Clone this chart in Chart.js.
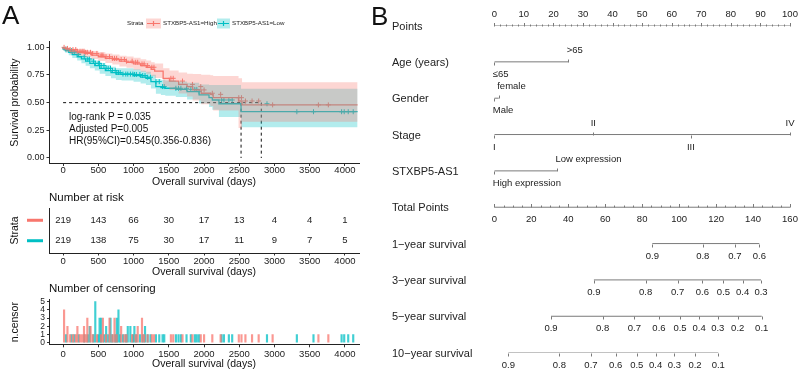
<!DOCTYPE html>
<html>
<head>
<meta charset="utf-8">
<script src="https://cdn.jsdelivr.net/npm/chart.js@4.4.1/dist/chart.umd.min.js"></script>
<style>
  body { margin: 0; background: #fff; }
  #wrap { position: relative; width: 800px; height: 376px; overflow: hidden; font-family: 'Liberation Sans', Arial, sans-serif; color: #111; }
  #wrap canvas { position: absolute; }
  .txt { position: absolute; white-space: nowrap; line-height: 1; transform: translateY(-50%); }
</style>
</head>
<body>
<div id="wrap">
  <canvas id="km" width="370" height="190" style="left:0;top:0"></canvas>
  <canvas id="risk" width="370" height="93" style="left:0;top:185px"></canvas>
  <canvas id="censor" width="370" height="98" style="left:0;top:278px"></canvas>
  <canvas id="nomo" width="420" height="376" style="left:380px;top:0"></canvas>
  <div class="txt" style="left:2px;top:15px;font-size:26px">A</div>
  <div class="txt" style="left:371px;top:16px;font-size:26px">B</div>
  <div class="txt" style="left:69px;top:117px;font-size:10px">log-rank P = 0.035</div>
  <div class="txt" style="left:69px;top:129px;font-size:10px">Adjusted P=0.005</div>
  <div class="txt" style="left:69px;top:141px;font-size:10px">HR(95%CI)=0.545(0.356-0.836)</div>
  <div class="txt" style="left:49px;top:198px;font-size:11.5px">Number at risk</div>
  <div class="txt" style="left:49px;top:289px;font-size:11.5px">Number of censoring</div>
</div>
<script>
// 생존 곡선
const highTimes = [0, 40, 100, 200, 300, 400, 500, 600, 700, 800, 900, 1000, 1100, 1180, 1250, 1300, 1420, 1510, 1640, 1760, 1840, 1960, 2090, 2130, 2490, 2540, 2813, 4180];
const highSurv  = [1, 0.99, 0.98, 0.965, 0.955, 0.945, 0.93, 0.915, 0.90, 0.89, 0.875, 0.865, 0.85, 0.835, 0.82, 0.80, 0.785, 0.72, 0.695, 0.665, 0.645, 0.615, 0.585, 0.575, 0.545, 0.515, 0.48, 0.48];
const highUpper = [1, 1, 0.998, 0.99, 0.984, 0.977, 0.966, 0.955, 0.944, 0.936, 0.925, 0.917, 0.905, 0.893, 0.882, 0.866, 0.853, 0.81, 0.79, 0.772, 0.762, 0.758, 0.752, 0.748, 0.74, 0.72, 0.684, 0.684];
const highLower = [1, 0.972, 0.958, 0.94, 0.926, 0.913, 0.894, 0.876, 0.858, 0.845, 0.827, 0.815, 0.797, 0.78, 0.762, 0.74, 0.722, 0.645, 0.615, 0.582, 0.555, 0.52, 0.485, 0.47, 0.43, 0.27, 0.328, 0.328];

const lowTimes = [0, 30, 80, 130, 200, 260, 320, 380, 450, 520, 600, 680, 750, 830, 1000, 1100, 1176, 1247, 1317, 1388, 1450, 1600, 1760, 1930, 2071, 2118, 2212, 2526, 3036, 4180];
const lowSurv  = [1, 0.985, 0.97, 0.955, 0.935, 0.915, 0.895, 0.875, 0.855, 0.835, 0.81, 0.79, 0.772, 0.758, 0.755, 0.745, 0.73, 0.72, 0.69, 0.645, 0.635, 0.63, 0.62, 0.60, 0.57, 0.545, 0.524, 0.49, 0.418, 0.418];
const lowUpper = [1, 0.998, 0.99, 0.982, 0.966, 0.95, 0.933, 0.916, 0.898, 0.88, 0.858, 0.84, 0.824, 0.812, 0.81, 0.802, 0.789, 0.78, 0.752, 0.714, 0.706, 0.70, 0.692, 0.68, 0.665, 0.66, 0.66, 0.66, 0.625, 0.625];
const lowLower = [1, 0.97, 0.95, 0.928, 0.904, 0.88, 0.857, 0.834, 0.812, 0.79, 0.762, 0.74, 0.72, 0.704, 0.70, 0.688, 0.672, 0.66, 0.628, 0.58, 0.57, 0.562, 0.55, 0.528, 0.493, 0.46, 0.435, 0.37, 0.277, 0.277];

const medianTimes = [2526, 2813];

// 축 눈금
const dayTicks = [0, 500, 1000, 1500, 2000, 2500, 3000, 3500, 4000];
const survTicks = [0, 0.25, 0.5, 0.75, 1];
const censorTicks = [0, 1, 2, 3, 4, 5];

// 중도절단 시점과 개수
const censorHighTimes  = [14, 62, 100, 140, 180, 203, 240, 270, 297, 320, 344, 390, 420, 480, 540, 565, 610, 659, 700, 730, 760, 824, 870, 900, 980, 1030, 1059, 1120, 1150, 1200, 1260, 1290, 1530, 1563, 1695, 1836, 1954, 2001, 2118, 2236, 2494, 2532, 2588, 2682, 2776, 2974, 3624, 3765];
const censorHighCounts = [4, 2, 1, 1, 1, 2, 1, 1, 2, 1, 3, 2, 1, 1, 1, 3, 1, 3, 1, 3, 1, 2, 1, 1, 1, 1, 2, 3, 1, 1, 1, 1, 1, 1, 1, 1, 1, 1, 1, 1, 1, 1, 1, 1, 1, 1, 1, 1];
const censorLowTimes  = [40, 120, 160, 220, 300, 350, 377, 430, 457, 500, 518, 541, 580, 611, 640, 673, 700, 740, 762, 786, 810, 850, 890, 918, 955, 990, 1012, 1040, 1090, 1130, 1163, 1200, 1240, 1318, 1365, 1412, 1436, 1601, 1638, 1672, 1752, 1813, 1870, 1898, 1930, 2250, 2283, 2353, 2400, 2894, 3318, 3554, 3953, 3990, 4047, 4118];
const censorLowCounts = [1, 1, 1, 1, 1, 1, 2, 1, 5, 1, 3, 3, 1, 2, 1, 3, 1, 1, 3, 4, 1, 1, 1, 2, 2, 1, 2, 1, 1, 1, 2, 1, 1, 1, 1, 1, 1, 1, 1, 1, 1, 1, 1, 1, 1, 1, 1, 1, 1, 1, 1, 1, 1, 1, 1, 1];

// 위험집단 수
const riskTimes = [0, 500, 1000, 1500, 2000, 2500, 3000, 3500, 4000];
const riskHigh = [219, 143, 66, 30, 17, 13, 4, 4, 1];
const riskLow  = [219, 138, 75, 30, 17, 11, 9, 7, 5];

// 노모그램
const rowLabels = ['Points', 'Age (years)', 'Gender', 'Stage', 'STXBP5-AS1', 'Total Points',
  '1\u2212year survival', '3\u2212year survival', '5\u2212year survival', '10\u2212year survival'];
const pointTicks = [0, 10, 20, 30, 40, 50, 60, 70, 80, 90, 100];
const totalTicks = [0, 20, 40, 60, 80, 100, 120, 140, 160];
const ageLevels = ['\u226465', '>65'];
const agePoints = [0, 25];
const genderLevels = ['Male', 'female'];
const genderPoints = [0, 1.5];
const stageLevels = ['I', 'II', 'III', 'IV'];
const stagePoints = [0, 33.5, 66.5, 100];
const exprLevels = ['High expression', 'Low expression'];
const exprPoints = [0, 21.2];
const surv1Probs = ['0.9', '0.8', '0.7', '0.6'];
const surv1Total = [85.5, 112.8, 130.2, 143.4];
const surv3Probs = ['0.9', '0.8', '0.7', '0.6', '0.5', '0.4', '0.3'];
const surv3Total = [53.9, 81.9, 99.2, 112.6, 124.0, 134.4, 144.3];
const surv5Probs = ['0.9', '0.8', '0.7', '0.6', '0.5', '0.4', '0.3', '0.2', '0.1'];
const surv5Total = [30.7, 58.6, 75.8, 89.1, 100.5, 110.8, 120.9, 131.7, 144.7];
const surv10Probs = ['0.9', '0.8', '0.7', '0.6', '0.5', '0.4', '0.3', '0.2', '0.1'];
const surv10Total = [7.6, 35.2, 52.3, 65.7, 77.1, 87.3, 97.4, 108.6, 121.2];

const RED = '#F8766D';
const TEAL = '#00BFC4';
const FONT = "'Liberation Sans', Arial, sans-serif";
Chart.defaults.font.family = FONT;
Chart.defaults.color = '#222';

// 계단함수에서 시점 t의 생존율
function survAt(times, surv, t) {
    let s = surv[0];
    for (let i = 0; i < times.length; i++) {
        if (times[i] <= t) s = surv[i];
    }
    return s;
}

function stepLine(times, vals, color, width, extra) {
    return Object.assign({
        data: times.map((t, i) => ({ x: t, y: vals[i] })),
        stepped: 'after', borderColor: color, borderWidth: width,
        pointRadius: 0, fill: false
    }, extra || {});
}

// 공통 x축 (생존 일수)
function daysAxis(height, tickPad, titlePad) {
    return {
        type: 'linear', min: -200, max: 4200, offset: false,
        afterFit: s => { s.height = height; },
        afterBuildTicks: s => { s.ticks = dayTicks.map(v => ({ value: v })); },
        ticks: { maxRotation: 0, autoSkip: false, padding: tickPad, font: { size: 9.5 }, color: '#222', callback: v => String(v) },
        grid: { drawOnChartArea: false, offset: false, tickLength: 2.5, color: '#333' },
        border: { color: '#222', width: 1 },
        title: { display: true, text: 'Overall survival (days)', font: { size: 10.5 }, color: '#111', padding: { top: 0, bottom: titlePad } }
    };
}

const baseOptions = {
    responsive: false, animation: false, devicePixelRatio: 1, events: [],
    plugins: { legend: { display: false }, tooltip: { enabled: false } }
};

// 범례 그리기
const kmLegend = {
    id: 'kmLegend',
    afterDraw(chart) {
        const ctx = chart.ctx;
        ctx.save();
        ctx.font = '6.2px ' + FONT;
        ctx.fillStyle = '#222';
        ctx.textBaseline = 'middle';
        const cy = 23.5;
        ctx.fillText('Strata', 127, cy);
        const keys = [[146, 15, RED, 'rgba(248,118,109,0.3)', 'STXBP5-AS1=High'], [217, 13, TEAL, 'rgba(0,191,196,0.3)', 'STXBP5-AS1=Low']];
        keys.forEach(k => {
            const x0 = k[0], w = k[1];
            ctx.fillStyle = k[3];
            ctx.fillRect(x0, cy - 5, w, 10);
            ctx.strokeStyle = k[2];
            ctx.lineWidth = 1.2;
            ctx.beginPath();
            ctx.moveTo(x0 + 1, cy); ctx.lineTo(x0 + w - 1, cy);
            ctx.moveTo(x0 + w / 2, cy - 2.5); ctx.lineTo(x0 + w / 2, cy + 2.5);
            ctx.stroke();
            ctx.fillStyle = '#222';
            ctx.fillText(k[4], x0 + w + 2, cy);
        });
        ctx.restore();
    }
};

new Chart(document.getElementById('km'), {
    type: 'line',
    data: {
        datasets: [
            stepLine(highTimes, highUpper, 'rgba(0,0,0,0)', 0, { fill: '+1', backgroundColor: 'rgba(248,118,109,0.3)' }),
            stepLine(highTimes, highLower, 'rgba(0,0,0,0)', 0),
            stepLine(lowTimes, lowUpper, 'rgba(0,0,0,0)', 0, { fill: '+1', backgroundColor: 'rgba(0,191,196,0.3)' }),
            stepLine(lowTimes, lowLower, 'rgba(0,0,0,0)', 0),
            stepLine(highTimes, highSurv, RED, 1.3),
            stepLine(lowTimes, lowSurv, TEAL, 1.3),
            {
                type: 'scatter',
                data: censorHighTimes.map(t => ({ x: t, y: survAt(highTimes, highSurv, t) })),
                pointStyle: 'cross', pointRadius: 2.5, borderColor: RED, borderWidth: 1
            },
            {
                type: 'scatter',
                data: censorLowTimes.map(t => ({ x: t, y: survAt(lowTimes, lowSurv, t) })),
                pointStyle: 'cross', pointRadius: 2.5, borderColor: TEAL, borderWidth: 1
            },
            {
                data: [{ x: 0, y: 0.5 }, { x: Math.max(...medianTimes), y: 0.5 }],
                borderColor: '#111', borderWidth: 1, borderDash: [3, 3], pointRadius: 0, fill: false
            },
            ...medianTimes.map(m => ({
                data: [{ x: m, y: 0.5 }, { x: m, y: 0 }],
                borderColor: '#111', borderWidth: 1, borderDash: [3, 3], pointRadius: 0, fill: false
            }))
        ]
    },
    options: Object.assign({}, baseOptions, {
        layout: { padding: { top: 41.8, right: 11, left: 0, bottom: 0 } },
        scales: {
            x: daysAxis(26.5, -1.5, 1.5),
            y: {
                type: 'linear', min: -0.05, max: 1.05,
                afterFit: s => { s.width = 49; },
                afterBuildTicks: s => { s.ticks = survTicks.map(v => ({ value: v })); },
                ticks: { padding: 2, font: { size: 9 }, color: '#222', callback: v => v.toFixed(2) },
                grid: { drawOnChartArea: false, tickLength: 2.5, color: '#333' },
                border: { color: '#222', width: 1 },
                title: { display: true, text: 'Survival probability', font: { size: 10.5 }, color: '#111', padding: { top: 8.5, bottom: 0 } }
            }
        }
    }),
    plugins: [kmLegend]
});

// 위험집단 표
const riskText = {
    id: 'riskText',
    afterDatasetsDraw(chart) {
        const ctx = chart.ctx;
        ctx.save();
        ctx.font = '9.5px ' + FONT;
        ctx.fillStyle = '#222';
        ctx.textAlign = 'center';
        ctx.textBaseline = 'middle';
        chart.data.datasets.forEach((ds, i) => {
            const meta = chart.getDatasetMeta(i);
            meta.data.forEach((pt, j) => ctx.fillText(String(ds.numbers[j]), pt.x, pt.y));
            // 층 색상 표시
            const y = meta.data[0].y;
            ctx.strokeStyle = ds.keyColor;
            ctx.lineWidth = 3;
            ctx.beginPath();
            ctx.moveTo(27, y); ctx.lineTo(43, y);
            ctx.stroke();
        });
        ctx.restore();
    }
};

new Chart(document.getElementById('risk'), {
    type: 'scatter',
    data: {
        datasets: [
            { data: riskTimes.map(t => ({ x: t, y: 1 })), numbers: riskHigh, keyColor: RED, pointRadius: 0 },
            { data: riskTimes.map(t => ({ x: t, y: 2 })), numbers: riskLow, keyColor: TEAL, pointRadius: 0 }
        ]
    },
    options: Object.assign({}, baseOptions, {
        layout: { padding: { top: 23, right: 11, left: 0, bottom: 0 } },
        scales: {
            x: daysAxis(25, 0, 0),
            y: {
                type: 'linear', min: 0.4, max: 2.6, reverse: true,
                afterFit: s => { s.width = 49; },
                ticks: { display: false },
                grid: { display: false },
                border: { color: '#222', width: 1 },
                title: { display: true, text: 'Strata', font: { size: 10.5 }, color: '#111', padding: { top: 8.5, bottom: 0 } }
            }
        }
    }),
    plugins: [riskText]
});

// 중도절단 막대
new Chart(document.getElementById('censor'), {
    type: 'bar',
    data: {
        datasets: [
            {
                data: censorHighTimes.map((t, i) => ({ x: t, y: censorHighCounts[i] })),
                backgroundColor: 'rgba(248,118,109,0.75)', barThickness: 1.5, grouped: false
            },
            {
                data: censorLowTimes.map((t, i) => ({ x: t, y: censorLowCounts[i] })),
                backgroundColor: 'rgba(0,191,196,0.75)', barThickness: 1.5, grouped: false
            }
        ]
    },
    options: Object.assign({}, baseOptions, {
        layout: { padding: { top: 21.6, right: 11, left: 0, bottom: 0 } },
        scales: {
            x: daysAxis(31.2, 1.2, 6),
            y: {
                type: 'linear', min: -0.25, max: 5.25,
                afterFit: s => { s.width = 49; },
                afterBuildTicks: s => { s.ticks = censorTicks.map(v => ({ value: v })); },
                ticks: { padding: 2, font: { size: 8.5 }, color: '#222', autoSkip: false, callback: v => String(v) },
                grid: { drawOnChartArea: false, tickLength: 2, color: '#333' },
                border: { color: '#222', width: 1 },
                title: { display: true, text: 'n.censor', font: { size: 10.5 }, color: '#111', padding: { top: 8.5, bottom: 0 } }
            }
        }
    })
});

// 노모그램
const LINE_GRAY = '#7a7a7a';
const nomoDraw = {
    id: 'nomoDraw',
    afterDatasetsDraw(chart) {
        const ctx = chart.ctx;
        const x = chart.scales.x, xt = chart.scales.xt, y = chart.scales.y;
        ctx.save();
        ctx.fillStyle = '#222';
        ctx.textBaseline = 'middle';
        ctx.font = '11px ' + FONT;
        ctx.textAlign = 'left';
        rowLabels.forEach((lab, i) => ctx.fillText(lab, 12, y.getPixelForValue(i) + 1));

        ctx.strokeStyle = LINE_GRAY;
        ctx.lineWidth = 1;
        const tick = (px, py, len) => {
            const cx = Math.round(px) + 0.5;
            ctx.beginPath();
            ctx.moveTo(cx, py); ctx.lineTo(cx, py + len);
            ctx.stroke();
        };
        ctx.font = '9.5px ' + FONT;

        // Points 축
        const y0 = Math.round(y.getPixelForValue(0)) + 0.5;
        for (let p = 0; p <= 100; p += 2) {
            tick(x.getPixelForValue(p), y0, p % 10 === 0 ? -3.5 : -2);
        }
        ctx.textAlign = 'center';
        pointTicks.forEach(p => ctx.fillText(String(p), x.getPixelForValue(p), y0 - 12));

        // 범주형 변수
        const levels = (labels, pts, row, align) => {
            const py = Math.round(y.getPixelForValue(row)) + 0.5;
            ctx.textAlign = align;
            labels.forEach((lab, i) => {
                const px = x.getPixelForValue(pts[i]);
                const below = i % 2 === 0;
                tick(px, py, below ? 3 : -3);
                const tx = align === 'left' ? px - 1.5 : px;
                ctx.fillText(lab, tx, below ? py + 12 : py - 12);
            });
        };
        levels(ageLevels, agePoints, 1, 'left');
        levels(genderLevels, genderPoints, 2, 'left');
        levels(stageLevels, stagePoints, 3, 'center');
        levels(exprLevels, exprPoints, 4, 'left');

        // Total Points 축
        const y5 = Math.round(y.getPixelForValue(5)) + 0.5;
        for (let p = 0; p <= 160; p += 5) {
            tick(xt.getPixelForValue(p), y5, p % 20 === 0 ? -3.5 : -2);
        }
        ctx.textAlign = 'center';
        totalTicks.forEach(p => ctx.fillText(String(p), xt.getPixelForValue(p), y5 + 11.5));

        // 생존확률 축
        [[surv1Probs, surv1Total], [surv3Probs, surv3Total], [surv5Probs, surv5Total], [surv10Probs, surv10Total]].forEach((row, k) => {
            const py = Math.round(y.getPixelForValue(6 + k)) + 0.5;
            row[1].forEach((tp, i) => {
                const px = xt.getPixelForValue(tp);
                tick(px, py, 3);
                ctx.fillText(row[0][i], px, py + 12);
            });
        });
        ctx.restore();
    }
};

function nomoLine(from, to, row, axis) {
    return {
        data: [{ x: from, y: row }, { x: to, y: row }],
        xAxisID: axis, yAxisID: 'y',
        borderColor: LINE_GRAY, borderWidth: 1, pointRadius: 0, fill: false
    };
}

new Chart(document.getElementById('nomo'), {
    type: 'line',
    data: {
        datasets: [
            nomoLine(pointTicks[0], pointTicks[pointTicks.length - 1], 0, 'x'),
            nomoLine(agePoints[0], agePoints[agePoints.length - 1], 1, 'x'),
            nomoLine(genderPoints[0], genderPoints[genderPoints.length - 1], 2, 'x'),
            nomoLine(stagePoints[0], stagePoints[stagePoints.length - 1], 3, 'x'),
            nomoLine(exprPoints[0], exprPoints[exprPoints.length - 1], 4, 'x'),
            nomoLine(totalTicks[0], totalTicks[totalTicks.length - 1], 5, 'xt'),
            nomoLine(surv1Total[0], surv1Total[surv1Total.length - 1], 6, 'xt'),
            nomoLine(surv3Total[0], surv3Total[surv3Total.length - 1], 7, 'xt'),
            nomoLine(surv5Total[0], surv5Total[surv5Total.length - 1], 8, 'xt'),
            nomoLine(surv10Total[0], surv10Total[surv10Total.length - 1], 9, 'xt')
        ]
    },
    options: Object.assign({}, baseOptions, {
        layout: { padding: { top: 25.5, right: 10, left: 114.3, bottom: 23.4 } },
        scales: {
            x: { type: 'linear', min: 0, max: 100, display: false },
            xt: { type: 'linear', axis: 'x', min: 0, max: 160, display: false },
            y: { type: 'linear', min: 0, max: 9, reverse: true, display: false }
        }
    }),
    plugins: [nomoDraw]
});
</script>
</body>
</html>
